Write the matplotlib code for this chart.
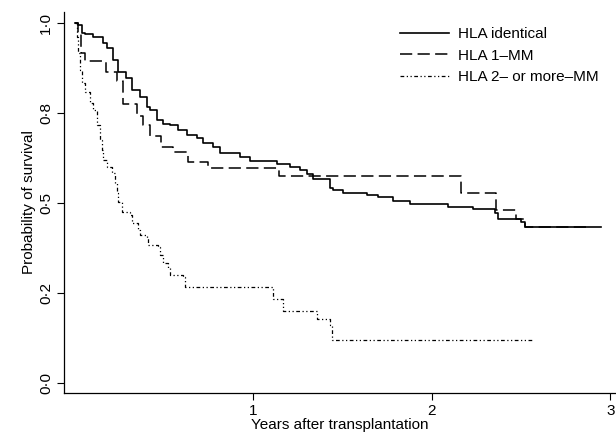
import matplotlib
matplotlib.use("Agg")
import matplotlib.pyplot as plt

plt.rcParams['font.family'] = ['Liberation Sans', 'DejaVu Sans']

# Kaplan-Meier steps (years, survival)
t_ident = [0.0, 0.021, 0.04, 0.058, 0.105, 0.16, 0.18, 0.217, 0.245, 0.29, 0.32,
           0.366, 0.403, 0.422, 0.46, 0.496, 0.534, 0.58, 0.627, 0.683, 0.72,
           0.776, 0.814, 0.926, 0.981, 1.131, 1.205, 1.261, 1.299, 1.336, 1.429,
           1.448, 1.504, 1.635, 1.70, 1.783, 1.877, 2.091, 2.231, 2.353, 2.368,
           2.502, 2.52, 2.95]
s_ident = [1.0, 0.994, 0.97, 0.969, 0.961, 0.943, 0.929, 0.896, 0.864, 0.845, 0.813,
           0.794, 0.767, 0.757, 0.73, 0.719, 0.716, 0.702, 0.688, 0.679, 0.665,
           0.656, 0.639, 0.628, 0.617, 0.607, 0.60, 0.591, 0.58, 0.567, 0.54,
           0.535, 0.528, 0.521, 0.515, 0.506, 0.496, 0.489, 0.482, 0.471, 0.454,
           0.447, 0.433, 0.433]

t_mm1 = [0.0, 0.02, 0.034, 0.058, 0.176, 0.239, 0.273, 0.347, 0.385, 0.422, 0.484,
         0.552, 0.636, 0.748, 1.144, 2.163, 2.358, 2.47, 2.52, 2.885]
s_mm1 = [1.0, 0.97, 0.915, 0.894, 0.864, 0.839, 0.774, 0.741, 0.716, 0.685, 0.654,
         0.642, 0.614, 0.596, 0.574, 0.526, 0.48, 0.454, 0.433, 0.433]

t_mm2 = [0.0, 0.012, 0.021, 0.03, 0.04, 0.058, 0.086, 0.105, 0.124, 0.142, 0.152,
         0.161, 0.18, 0.208, 0.226, 0.236, 0.245, 0.264, 0.31, 0.32, 0.356, 0.366,
         0.403, 0.412, 0.468, 0.478, 0.496, 0.524, 0.534, 0.608, 0.618, 1.11,
         1.168, 1.355, 1.43, 1.44, 2.567]
s_mm2 = [1.0, 0.961, 0.915, 0.869, 0.832, 0.808, 0.776, 0.757, 0.716, 0.674, 0.646,
         0.619, 0.60, 0.582, 0.554, 0.526, 0.503, 0.475, 0.466, 0.443, 0.424, 0.41,
         0.401, 0.382, 0.378, 0.355, 0.332, 0.318, 0.299, 0.294, 0.267, 0.232,
         0.20, 0.177, 0.16, 0.12, 0.12]

labels = ['HLA identical', 'HLA 1\u2013MM', 'HLA 2\u2013 or more\u2013MM']
yticks = [0.0, 0.25, 0.5, 0.75, 1.0]
ytick_labels = ['0\u00b70', '0\u00b72', '0\u00b75', '0\u00b78', '1\u00b70']
xticks = [1, 2, 3]

fs = 11

fig = plt.figure(figsize=(6.16, 4.43), dpi=100)
ax = fig.add_axes([0.1039, 0.1135, 0.894, 0.8595])

ax.step(t_ident, s_ident, where='post', color='black', lw=1.2, label=labels[0])
ax.step(t_mm1, s_mm1, where='post', color='black', lw=1.1, dashes=(8, 3.5), label=labels[1])
ax.step(t_mm2, s_mm2, where='post', color='black', lw=0.9,
        dashes=(3, 2, 1, 2, 1, 2), label=labels[2])

ax.set_xlim(-0.0593, 3.024)
ax.set_ylim(-0.0278, 1.0297)
ax.set_xticks(xticks)
ax.set_xticklabels([str(x) for x in xticks])
ax.set_yticks(yticks)
ax.set_yticklabels(ytick_labels, rotation=90, va='center')
ax.tick_params(direction='out', length=5, width=0.8, labelsize=fs, pad=3)
for side in ['top', 'right']:
    ax.spines[side].set_visible(False)
for side in ['left', 'bottom']:
    ax.spines[side].set_linewidth(0.9)

ax.set_xlabel('Years after transplantation', fontsize=fs, labelpad=0)
ax.set_ylabel('Probability of survival', fontsize=fs, labelpad=2)

ax.legend(loc='upper left', bbox_to_anchor=(400 / 616, 1 - 27 / 443),
          bbox_transform=fig.transFigure, frameon=False, fontsize=fs,
          handlelength=3.2, handletextpad=0.6, labelspacing=0.5,
          borderpad=0, borderaxespad=0)

fig.savefig('out.png', dpi=100)
